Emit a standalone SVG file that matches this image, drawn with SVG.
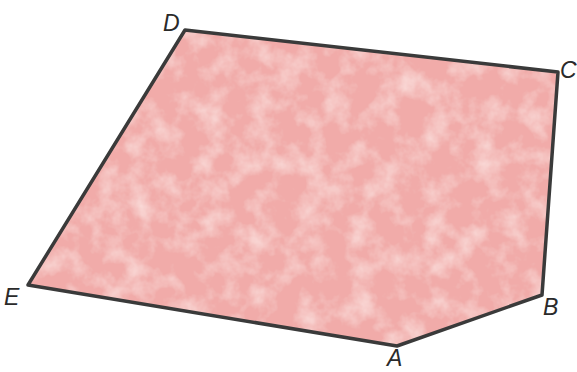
<svg xmlns="http://www.w3.org/2000/svg" width="577" height="372" viewBox="0 0 577 372">
<style>
.lbl{font-family:"Liberation Sans",Arial,sans-serif;font-style:italic;font-size:23px;fill:#2a2a2a}
</style>
<defs>
<filter id="mottle" x="0" y="0" width="100%" height="100%">
<feTurbulence type="fractalNoise" baseFrequency="0.04" numOctaves="4" seed="3" result="n"/>
<feColorMatrix in="n" type="matrix" values="0 0 0 0 1  0 0 0 0 0.88  0 0 0 0 0.86  0 0 0 1.2 -0.5" result="spots"/>
<feComposite in="spots" in2="SourceGraphic" operator="in" result="s2"/>
<feMerge><feMergeNode in="SourceGraphic"/><feMergeNode in="s2"/></feMerge>
</filter>
</defs>
<rect width="577" height="372" fill="#ffffff"/>
<polygon points="185,30 558,72 542,295 397,346 28,285" fill="#f1aba9" filter="url(#mottle)"/>
<polygon points="185,30 558,72 542,295 397,346 28,285" fill="none" stroke="#3a3a3a" stroke-width="3.5" stroke-linejoin="round"/>
<text class="lbl" x="163" y="31">D</text>
<text class="lbl" x="560" y="78">C</text>
<text class="lbl" x="4" y="305">E</text>
<text class="lbl" x="543" y="315">B</text>
<text class="lbl" x="387" y="366">A</text>
</svg>
